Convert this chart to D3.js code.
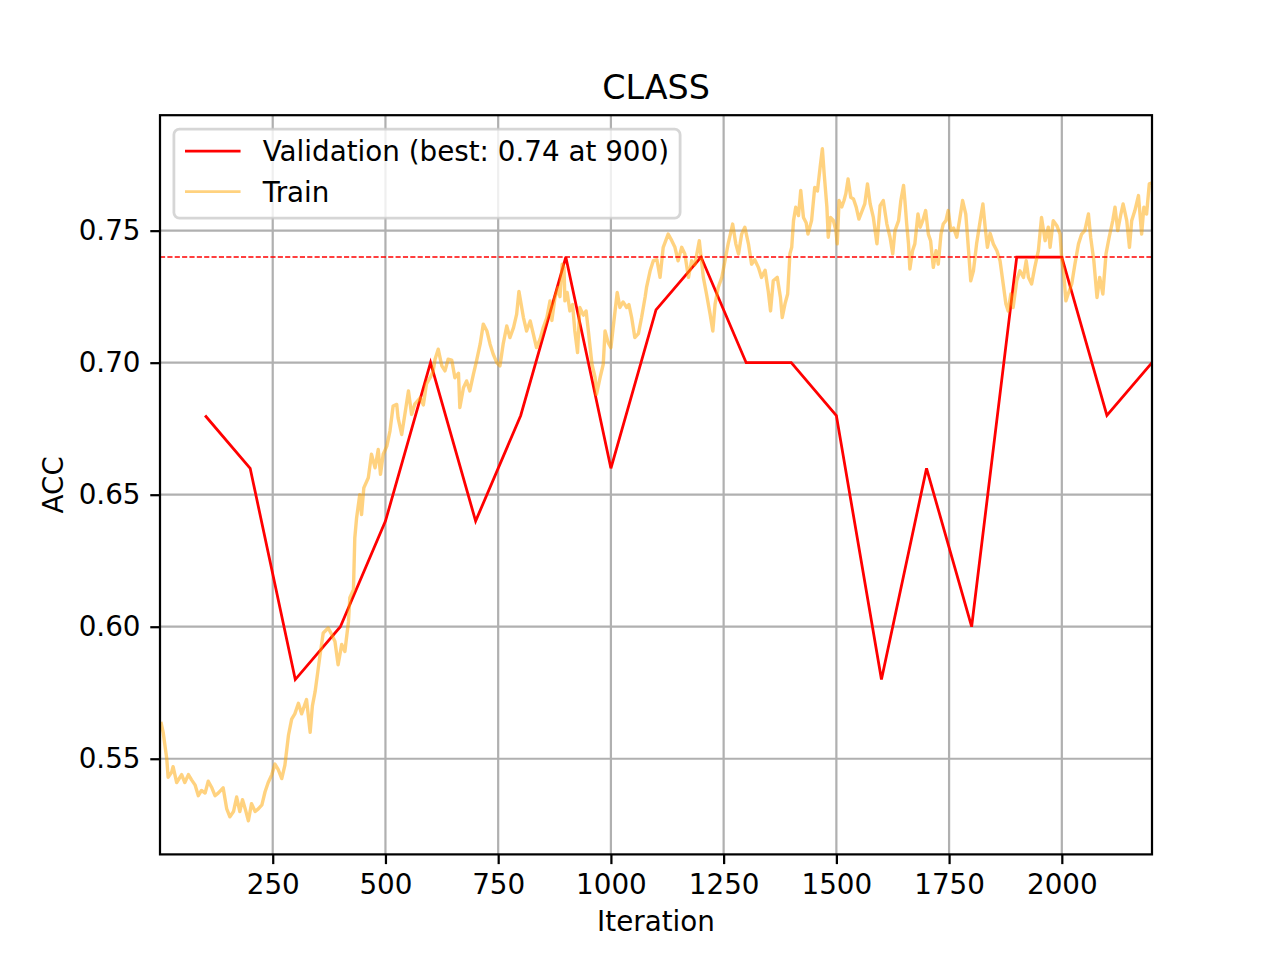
<!DOCTYPE html>
<html>
<head>
<meta charset="utf-8">
<script src="https://cdn.jsdelivr.net/npm/d3@7"></script>
<style>
  body { margin: 0; background: #fff; }
  svg { display: block; font-family: "DejaVu Sans", sans-serif; }
  .tick text { font-size: 27.8px; fill: #000; }
</style>
</head>
<body>
<svg width="1280" height="960"></svg>
<script>
// validation accuracy, every 100 iterations
const valIters = [100, 200, 300, 400, 500, 600, 700, 800, 900, 1000, 1100,
  1200, 1300, 1400, 1500, 1600, 1700, 1800, 1900, 2000, 2100, 2200];
const valAcc = [0.68, 0.66, 0.58, 0.60, 0.64, 0.70, 0.64, 0.68, 0.74, 0.66, 0.72,
  0.74, 0.70, 0.70, 0.68, 0.58, 0.66, 0.60, 0.74, 0.74, 0.68, 0.70];

// train accuracy [iteration, acc]
const trainPoints = [
  [2,0.564],[7,0.560],[15,0.550],[18,0.543],[26,0.545],[29,0.547],[37,0.541],[48,0.544],
  [55,0.541],[63,0.544],[70,0.542],[78,0.540],[85,0.536],[92,0.538],[100,0.537],[107,0.5415],
  [115,0.539],[122,0.536],[129,0.537],[140,0.539],[148,0.531],[155,0.528],[163,0.530],[170,0.5355],
  [177,0.530],[183,0.5345],[189,0.531],[196,0.5265],[203,0.533],[211,0.530],[218,0.531],[226,0.5325],
  [233,0.5375],[240,0.541],[248,0.544],[255,0.548],[262,0.546],[270,0.5425],[277,0.5476],[285,0.559],
  [292,0.565],[299,0.567],[307,0.571],[314,0.567],[325,0.5724],[333,0.560],[338,0.570],[344,0.5754],
  [350,0.583],[355,0.5894],[362,0.5976],[373,0.5995],[381,0.597],[388,0.5944],[395,0.5856],[403,0.5933],
  [410,0.5906],[418,0.602],[421,0.611],[429,0.614],[432,0.6336],[436,0.6412],[443,0.650],[447,0.6425],
  [452,0.6526],[462,0.6564],[469,0.6653],[477,0.6602],[484,0.6671],[489,0.6577],[495,0.6653],[503,0.6684],
  [510,0.6741],[517,0.6836],[525,0.6842],[528,0.6791],[536,0.6728],[543,0.6804],[551,0.6893],[558,0.6804],
  [565,0.6843],[577,0.6867],[584,0.684],[591,0.692],[599,0.6943],[606,0.6969],[610,0.7013],[617,0.7051],
  [625,0.6988],[632,0.6969],[639,0.7013],[647,0.701],[654,0.6943],[662,0.696],[665,0.683],[673,0.6905],
  [680,0.6931],[687,0.6893],[695,0.6956],[702,0.7007],[710,0.707],[717,0.7146],[725,0.712],[732,0.707],
  [739,0.7032],[747,0.700],[754,0.6988],[761,0.707],[769,0.7139],[776,0.7095],[784,0.7133],[791,0.7184],
  [796,0.727],[806,0.7171],[813,0.712],[821,0.7158],[828,0.7108],[835,0.7057],[843,0.709],[850,0.7133],
  [858,0.7171],[865,0.7234],[869,0.716],[876,0.7247],[883,0.7285],[887,0.725],[892,0.7373],[896,0.736],
  [898,0.7234],[903,0.7266],[909,0.7196],[915,0.722],[920,0.712],[926,0.7038],[931,0.7209],[939,0.718],
  [945,0.7196],[950,0.712],[958,0.6994],[965,0.6943],[968,0.688],[976,0.6943],[983,0.6994],[987,0.712],
  [994,0.7076],[1000,0.7057],[1005,0.7133],[1014,0.7266],[1020,0.7209],[1027,0.723],[1035,0.7209],[1040,0.722],
  [1046,0.7171],[1053,0.7095],[1061,0.711],[1068,0.7171],[1076,0.725],[1079,0.7285],[1087,0.7348],[1094,0.7386],
  [1102,0.739],[1109,0.7323],[1116,0.7437],[1127,0.7487],[1135,0.7462],[1142,0.7437],[1149,0.7386],[1157,0.7437],
  [1164,0.7412],[1172,0.7323],[1179,0.7386],[1186,0.737],[1196,0.7462],[1205,0.7323],[1212,0.726],[1220,0.7184],
  [1226,0.712],[1231,0.7222],[1238,0.7285],[1246,0.7323],[1253,0.7386],[1260,0.745],[1270,0.7525],[1277,0.745],
  [1283,0.7412],[1290,0.7487],[1297,0.7513],[1305,0.745],[1312,0.7373],[1319,0.739],[1327,0.7361],[1334,0.7323],
  [1342,0.735],[1349,0.727],[1354,0.7196],[1360,0.731],[1369,0.7323],[1376,0.7247],[1380,0.7171],[1386,0.7222],
  [1392,0.726],[1397,0.7412],[1401,0.7437],[1405,0.7538],[1410,0.7589],[1416,0.7557],[1421,0.7652],[1427,0.755],
  [1433,0.753],[1437,0.7487],[1445,0.7538],[1452,0.7664],[1458,0.765],[1464,0.774],[1469,0.781],[1473,0.7715],
  [1479,0.7589],[1482,0.7475],[1487,0.755],[1493,0.754],[1499,0.750],[1502,0.745],[1506,0.7614],[1512,0.759],
  [1517,0.7614],[1521,0.764],[1526,0.7696],[1532,0.7626],[1538,0.762],[1544,0.7589],[1550,0.7544],[1556,0.757],
  [1563,0.7601],[1569,0.7677],[1575,0.7601],[1582,0.755],[1590,0.745],[1597,0.7595],[1604,0.7614],[1612,0.7525],
  [1619,0.7475],[1625,0.7412],[1630,0.750],[1638,0.7538],[1643,0.7614],[1649,0.7671],[1652,0.7614],[1656,0.7525],
  [1660,0.745],[1663,0.7355],[1669,0.7424],[1674,0.745],[1681,0.7563],[1686,0.7513],[1692,0.754],[1698,0.7576],
  [1704,0.7487],[1709,0.7462],[1715,0.7361],[1721,0.7424],[1726,0.7373],[1732,0.7487],[1737,0.7525],[1743,0.7538],
  [1748,0.7576],[1754,0.750],[1760,0.751],[1767,0.7475],[1773,0.7538],[1780,0.7614],[1787,0.7563],[1791,0.7475],
  [1798,0.731],[1804,0.7348],[1811,0.745],[1819,0.7538],[1825,0.7601],[1830,0.7513],[1835,0.7437],[1841,0.749],
  [1848,0.745],[1856,0.7424],[1863,0.7386],[1870,0.7298],[1876,0.7222],[1881,0.7196],[1887,0.726],[1892,0.7209],
  [1900,0.731],[1907,0.7348],[1915,0.7323],[1921,0.7386],[1926,0.7323],[1933,0.7298],[1940,0.7361],[1948,0.7424],
  [1955,0.755],[1963,0.7462],[1970,0.7513],[1974,0.7437],[1981,0.7538],[1989,0.7519],[1996,0.7487],[2000,0.739],
  [2005,0.7323],[2009,0.7234],[2014,0.726],[2022,0.7298],[2029,0.7373],[2037,0.745],[2044,0.7487],[2051,0.750],
  [2059,0.7563],[2064,0.7475],[2071,0.7386],[2078,0.7247],[2084,0.7323],[2091,0.726],[2098,0.7412],[2105,0.7475],
  [2113,0.7538],[2118,0.7589],[2124,0.750],[2131,0.7563],[2136,0.7601],[2144,0.7538],[2150,0.7437],[2155,0.7538],
  [2162,0.7576],[2170,0.7633],[2177,0.7487],[2182,0.7589],[2188,0.7563],[2194,0.7677],[2199,0.768]
];

const bestAcc = 0.74;
const bestIter = 900;
const xTicks = [250, 500, 750, 1000, 1250, 1500, 1750, 2000];
const yTicks = [0.55, 0.60, 0.65, 0.70, 0.75];

const chartTitle = 'CLASS';
const xLabel = 'Iteration';
const yLabel = 'ACC';
const legendLabels = [`Validation (best: ${bestAcc.toFixed(2)} at ${bestIter})`, 'Train'];

// layout (matplotlib default figure at 200 dpi)
const margin = {top: 115.2, right: 128, bottom: 105.6, left: 160};
const width = 1280 - margin.left - margin.right;
const height = 960 - margin.top - margin.bottom;
const pt = 200 / 72;

const svg = d3.select('svg');
const g = svg.append('g')
  .attr('transform', `translate(${margin.left}, ${margin.top})`);

const xScale = d3.scaleLinear()
  .domain([0, 2200])
  .range([0, width]);

// y limits with matplotlib's 5% margins
const allAcc = trainPoints.map(d => d[1]).concat(valAcc);
const [lo, hi] = d3.extent(allAcc);
const pad = (hi - lo) * 0.05;
const yScale = d3.scaleLinear()
  .domain([lo - pad, hi + pad])
  .range([height, 0]);

svg.append('defs').append('clipPath').attr('id', 'clip')
  .append('rect').attr('width', width).attr('height', height);

// grid
g.append('g').selectAll('line').data(xTicks).join('line')
  .attr('x1', d => xScale(d)).attr('x2', d => xScale(d))
  .attr('y1', 0).attr('y2', height)
  .attr('stroke', '#b0b0b0').attr('stroke-width', 0.8 * pt);
g.append('g').selectAll('line').data(yTicks).join('line')
  .attr('x1', 0).attr('x2', width)
  .attr('y1', d => yScale(d)).attr('y2', d => yScale(d))
  .attr('stroke', '#b0b0b0').attr('stroke-width', 0.8 * pt);

const plot = g.append('g').attr('clip-path', 'url(#clip)');

const valLine = d3.line()
  .x((d, i) => xScale(valIters[i]))
  .y(d => yScale(d));

plot.append('path')
  .attr('d', valLine(valAcc))
  .attr('fill', 'none')
  .attr('stroke', 'red')
  .attr('stroke-width', pt)
  .attr('stroke-linejoin', 'miter');

const trainLine = d3.line()
  .x(d => xScale(d[0]))
  .y(d => yScale(d[1]));

// slightly wider than 1pt to stand in for the dense jitter of the raw trace
plot.append('path')
  .attr('d', trainLine(trainPoints))
  .attr('fill', 'none')
  .attr('stroke', 'orange')
  .attr('stroke-opacity', 0.5)
  .attr('stroke-width', 3.4)
  .attr('stroke-linejoin', 'round');

// best validation line
plot.append('line')
  .attr('x1', 0).attr('x2', width)
  .attr('y1', yScale(bestAcc)).attr('y2', yScale(bestAcc))
  .attr('stroke', 'red')
  .attr('stroke-width', 0.5 * pt)
  .attr('stroke-dasharray', `${1.85 * pt},${0.8 * pt}`);

// spines
g.append('rect')
  .attr('width', width).attr('height', height)
  .attr('fill', 'none')
  .attr('stroke', '#000')
  .attr('stroke-width', 0.8 * pt);

// axes
const tickLen = 3.5 * pt;
const xAxis = g.append('g')
  .attr('transform', `translate(0, ${height})`)
  .call(d3.axisBottom(xScale)
    .tickValues(xTicks)
    .tickSize(tickLen)
    .tickSizeOuter(0)
    .tickPadding(3.5 * pt)
    .tickFormat(d3.format('d')));
xAxis.select('.domain').remove();

const yAxis = g.append('g')
  .call(d3.axisLeft(yScale)
    .tickValues(yTicks)
    .tickSize(tickLen)
    .tickSizeOuter(0)
    .tickPadding(3.5 * pt)
    .tickFormat(d3.format('.2f')));
yAxis.select('.domain').remove();

svg.selectAll('.tick line').attr('stroke', '#000').attr('stroke-width', 0.8 * pt);
svg.selectAll('.tick text').attr('font-family', 'DejaVu Sans');

// labels
svg.append('text')
  .attr('x', margin.left + width / 2).attr('y', 98.5)
  .attr('text-anchor', 'middle')
  .attr('font-size', 12 * pt)
  .text(chartTitle);

svg.append('text')
  .attr('x', margin.left + width / 2).attr('y', 931)
  .attr('text-anchor', 'middle')
  .attr('font-size', 10 * pt)
  .text(xLabel);

svg.append('text')
  .attr('transform', `translate(63, ${margin.top + height / 2}) rotate(-90)`)
  .attr('text-anchor', 'middle')
  .attr('font-size', 10 * pt)
  .text(yLabel);

// legend
const fs = 10 * pt;
const legend = g.append('g')
  .attr('transform', `translate(${0.5 * fs}, ${0.5 * fs})`);
const legendBox = legend.append('rect')
  .attr('rx', 0.2 * fs).attr('ry', 0.2 * fs)
  .attr('fill', '#fff').attr('fill-opacity', 0.8)
  .attr('stroke', '#ccc').attr('stroke-opacity', 0.8)
  .attr('stroke-width', pt);

const legendColors = ['red', 'orange'];
const legendOpac = [1, 0.5];
const rowY = [22, 62.5];
const texts = [];
legendLabels.forEach((label, i) => {
  legend.append('line')
    .attr('x1', 0.4 * fs).attr('x2', 0.4 * fs + 2 * fs)
    .attr('y1', rowY[i]).attr('y2', rowY[i])
    .attr('stroke', legendColors[i])
    .attr('stroke-opacity', legendOpac[i])
    .attr('stroke-width', pt);
  texts.push(legend.append('text')
    .attr('x', 0.4 * fs + 2.8 * fs)
    .attr('y', rowY[i] + 10)
    .attr('font-size', fs)
    .text(label));
});
const textW = d3.max(texts, t => t.node().getComputedTextLength());
legendBox
  .attr('width', 0.4 * fs + 2.8 * fs + textW + 0.4 * fs)
  .attr('height', 89);
</script>
</body>
</html>
